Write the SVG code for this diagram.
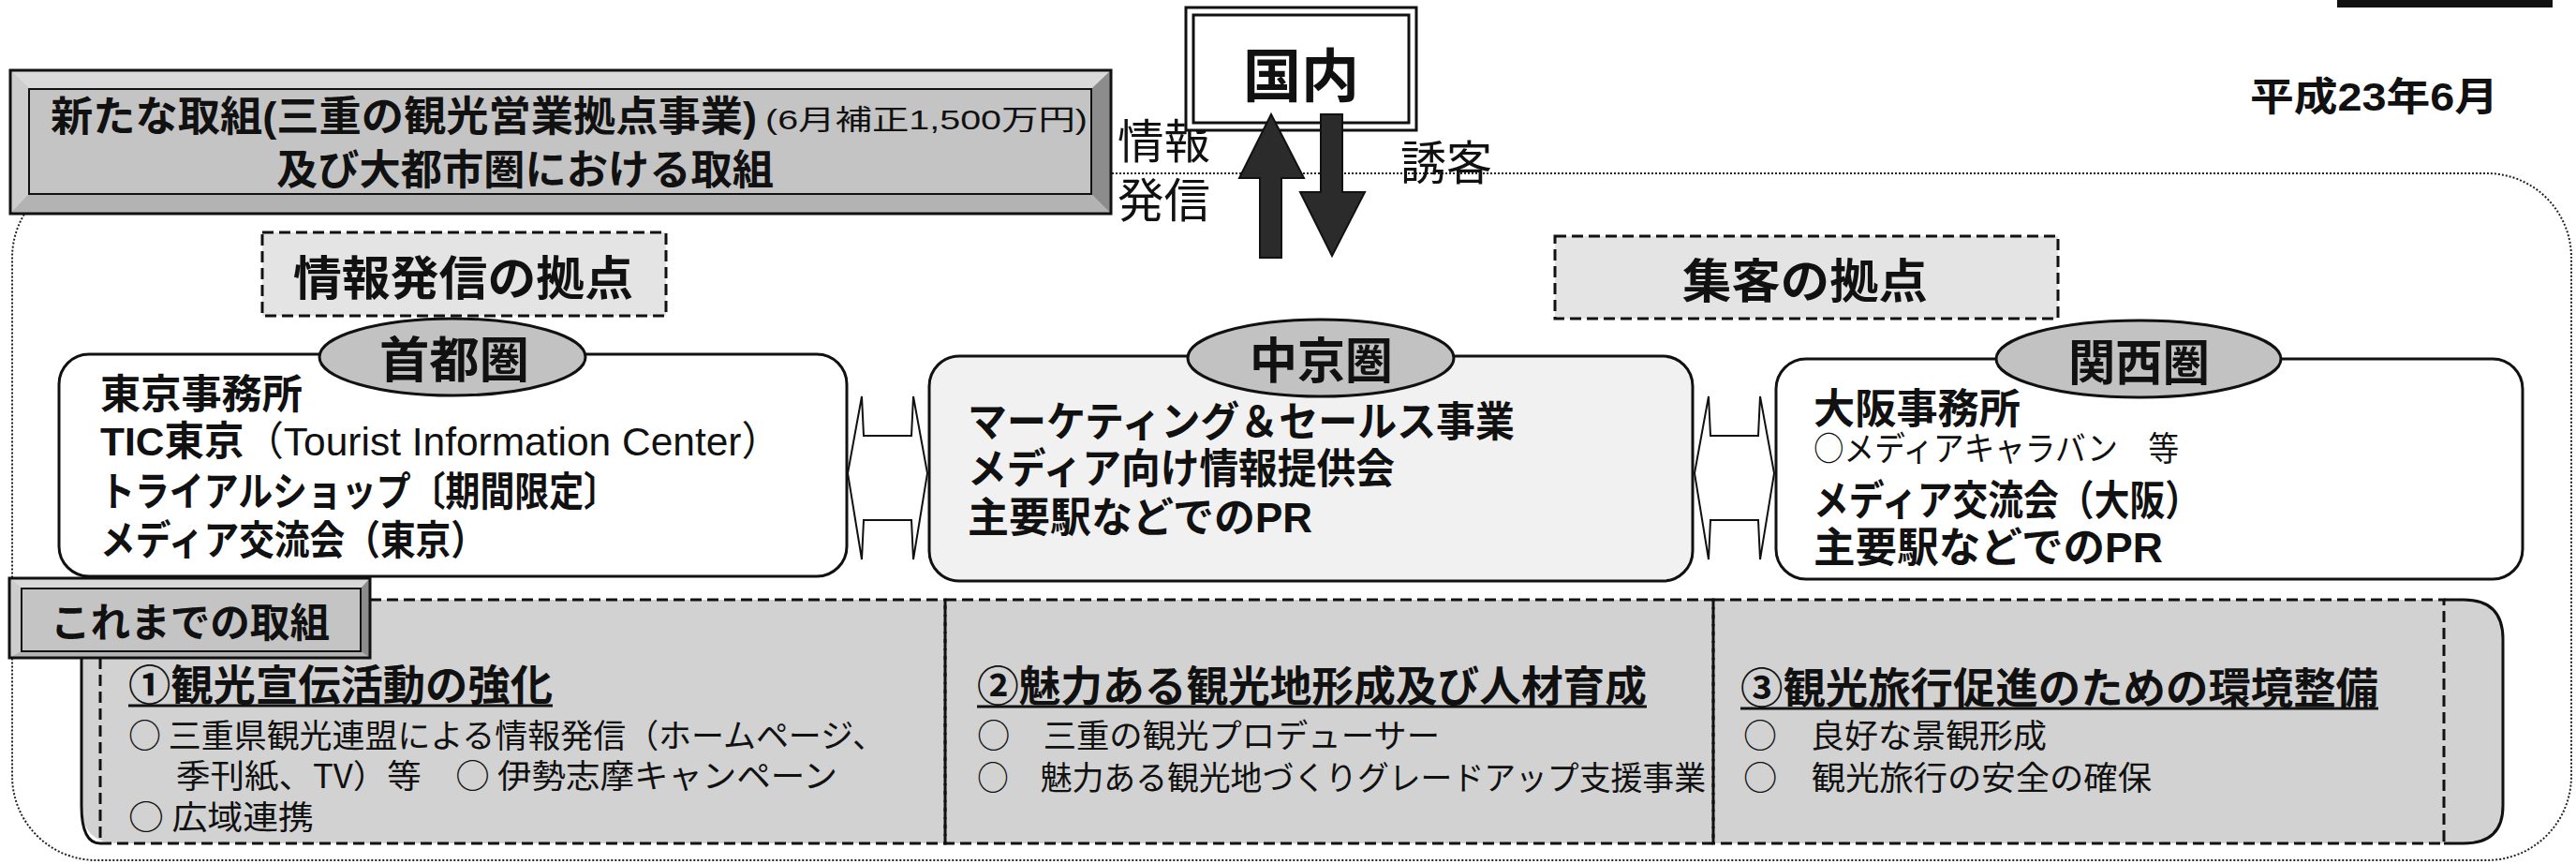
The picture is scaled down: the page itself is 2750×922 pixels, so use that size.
<svg xmlns="http://www.w3.org/2000/svg" width="2750" height="922" viewBox="0 0 2750 922">
<style>
text{font-family:"Liberation Sans","Noto Sans CJK JP",sans-serif;fill:#111}
.j{font-family:"Noto Sans CJK JP","Liberation Sans",sans-serif}
.b{font-weight:700}
.n{font-weight:400}
.box{stroke:#111;stroke-width:3}
.dash{fill:none;stroke:#111;stroke-width:3;stroke-dasharray:12 6}
.dot{fill:none;stroke:#222;stroke-width:2;stroke-dasharray:2 2}
.ell{fill:#c2c2c2;stroke:#111;stroke-width:3}
.conn{fill:#fff;stroke:#111;stroke-width:2;stroke-linejoin:miter}
.arr{fill:#2b2b2b;stroke:#111;stroke-width:2}
.bv-face{fill:#c4c4c4;stroke:#111;stroke-width:2}
.bv-top{fill:#d9d9d9}
.bv-left{fill:#cdcdcd}
.bv-right{fill:#8c8c8c}
.bv-bot{fill:#b3b3b3}
.ul{stroke:#111;stroke-width:3}
</style>

<rect x="0" y="0" width="2750" height="922" fill="#fff"/>

<!-- outer dotted frame -->
<g id="frame">
<rect class="dot" x="13" y="185" width="2732" height="733" rx="90" ry="90"/>
</g>

<!-- top right black bar -->
<rect id="corner-bar" x="2495" y="0" width="230" height="8" fill="#111"/>

<!-- date -->
<g id="date">
<text class="b" x="2402" y="118" font-size="42" textLength="265" lengthAdjust="spacingAndGlyphs">平成23年6月</text>
</g>

<!-- header bevel box -->
<g id="header">
<rect x="11" y="75" width="1175" height="153" fill="#b8b8b8"/>
<polygon class="bv-top" points="11,75 1186,75 1165,95 31,95"/>
<polygon class="bv-left" points="11,75 31,95 31,207 11,228"/>
<polygon class="bv-right" points="1186,75 1165,95 1165,207 1186,228"/>
<polygon class="bv-bot" points="11,228 1186,228 1165,207 31,207"/>
<rect x="11" y="75" width="1175" height="153" fill="none" stroke="#111" stroke-width="3"/>
<rect class="bv-face" x="31" y="95" width="1134" height="112"/>
<text class="b" x="54" y="140" font-size="44" textLength="754" lengthAdjust="spacingAndGlyphs">新たな取組(三重の観光営業拠点事業)</text>
<text class="n" x="817" y="138" font-size="30" textLength="344" lengthAdjust="spacingAndGlyphs">(6月補正1,500万円)</text>
<text class="b" x="295" y="197" font-size="44" textLength="531" lengthAdjust="spacingAndGlyphs">及び大都市圏における取組</text>
</g>

<!-- side labels -->
<g id="label-info">
<text class="n" x="1193" y="169" font-size="50" textLength="99" lengthAdjust="spacingAndGlyphs">情報</text>
<text class="n" x="1193" y="232" font-size="50" textLength="99" lengthAdjust="spacingAndGlyphs">発信</text>
</g>
<g id="label-yuukyaku">
<text class="n" x="1495" y="192" font-size="50" textLength="98" lengthAdjust="spacingAndGlyphs">誘客</text>
</g>

<!-- dashed hub labels -->
<g id="hub-info">
<rect x="280" y="248" width="431" height="89" fill="#e4e4e4"/>
<rect class="dash" x="280" y="248" width="431" height="89"/>
<text class="b" x="313" y="315" font-size="50" textLength="363" lengthAdjust="spacingAndGlyphs">情報発信の拠点</text>
</g>
<g id="hub-customer">
<rect x="1660" y="252" width="537" height="88" fill="#e4e4e4"/>
<rect class="dash" x="1660" y="252" width="537" height="88"/>
<text class="b" x="1796" y="318" font-size="50" textLength="262" lengthAdjust="spacingAndGlyphs">集客の拠点</text>
</g>

<!-- 首都圏 -->
<g id="node-shutoken">
<rect class="box" x="63" y="378" width="841" height="237" rx="32" ry="32" fill="#fff"/>
<ellipse class="ell" cx="483" cy="381" rx="142" ry="41"/>
<text class="b" x="405" y="403" font-size="52" textLength="160" lengthAdjust="spacingAndGlyphs">首都圏</text>
<text class="b" x="107" y="436" font-size="43" textLength="216" lengthAdjust="spacingAndGlyphs">東京事務所</text>
<text x="107" y="486" font-size="43" textLength="727" lengthAdjust="spacingAndGlyphs"><tspan class="b">TIC東京</tspan><tspan class="n">（Tourist Information Center）</tspan></text>
<text class="b" x="107" y="540" font-size="43" textLength="553" lengthAdjust="spacingAndGlyphs">トライアルショップ〔期間限定〕</text>
<text class="b" x="107" y="592" font-size="43" textLength="412" lengthAdjust="spacingAndGlyphs">メディア交流会（東京）</text>
</g>

<!-- 中京圏 -->
<g id="node-chukyoken">
<rect class="box" x="992" y="380" width="815" height="240" rx="32" ry="32" fill="#f1f1f1"/>
<ellipse class="ell" cx="1410" cy="382" rx="142" ry="41"/>
<text class="b" x="1334" y="404" font-size="52" textLength="153" lengthAdjust="spacingAndGlyphs">中京圏</text>
<text class="b" x="1033" y="466" font-size="44" textLength="584" lengthAdjust="spacingAndGlyphs">マーケティング＆セールス事業</text>
<text class="b" x="1033" y="516" font-size="44" textLength="456" lengthAdjust="spacingAndGlyphs">メディア向け情報提供会</text>
<text class="b" x="1033" y="568" font-size="44" textLength="368" lengthAdjust="spacingAndGlyphs">主要駅などでのPR</text>
</g>

<!-- 関西圏 -->
<g id="node-kansaiken">
<rect class="box" x="1896" y="383" width="797" height="235" rx="32" ry="32" fill="#fff"/>
<ellipse class="ell" cx="2283" cy="383" rx="152" ry="41"/>
<text class="b" x="2208" y="406" font-size="52" textLength="151" lengthAdjust="spacingAndGlyphs">関西圏</text>
<text class="b" x="1936" y="452" font-size="44" textLength="221" lengthAdjust="spacingAndGlyphs">大阪事務所</text>
<text class="n j" x="1936" y="492" font-size="36" textLength="390" lengthAdjust="spacingAndGlyphs">○メディアキャラバン　等</text>
<text class="b" x="1936" y="550" font-size="44" textLength="413" lengthAdjust="spacingAndGlyphs">メディア交流会（大阪）</text>
<text class="b" x="1936" y="600" font-size="44" textLength="373" lengthAdjust="spacingAndGlyphs">主要駅などでのPR</text>
</g>

<!-- connectors -->
<g id="connectors">
<polygon class="conn" points="905,505 920,423 922,465 973,465 975,423 990,505 975,597 973,555 922,555 920,597"/>
<polygon class="conn" points="1809,505 1824,423 1826,465 1877,465 1879,423 1894,505 1879,597 1877,555 1826,555 1824,597"/>
</g>

<!-- 国内 -->
<g id="node-kokunai">
<rect x="1266" y="8" width="246" height="131" fill="#fff" stroke="#111" stroke-width="3"/>
<rect x="1274" y="16" width="230" height="115" fill="none" stroke="#111" stroke-width="3"/>
<text class="b" x="1327" y="104" font-size="62" textLength="124" lengthAdjust="spacingAndGlyphs">国内</text>
</g>
<g id="connectors-vertical">
<polygon class="arr" points="1357,122 1392,190 1368,190 1368,275 1345,275 1345,190 1323,190"/>
<polygon class="arr" points="1410,122 1433,122 1433,205 1457,205 1422,273 1388,205 1410,205"/>
</g>

<!-- bottom panel -->
<g id="past-panel">
<path d="M87,640 H2630 Q2672,640 2672,682 V860 Q2672,900 2630,900 H127 Q87,900 87,860 Z" fill="#d2d2d2"/>
<path d="M2609,640 H2630 Q2672,640 2672,682 V860 Q2672,900 2630,900 H2609" fill="none" stroke="#111" stroke-width="3"/>
<path d="M107,900 Q87,900 87,860 V640" fill="none" stroke="#111" stroke-width="3"/>
<rect class="dash" x="107" y="640" width="902" height="260"/>
<rect class="dash" x="1009" y="640" width="820" height="260"/>
<rect class="dash" x="1829" y="640" width="780" height="260"/>
</g>

<g id="section-1">
<text class="b" x="137" y="748" font-size="45" textLength="453" lengthAdjust="spacingAndGlyphs">①観光宣伝活動の強化</text>
<line class="ul" x1="137" y1="753" x2="590" y2="753"/>
<text class="n j" x="137" y="798" font-size="35" textLength="808" lengthAdjust="spacingAndGlyphs">○ 三重県観光連盟による情報発信（ホームページ、</text>
<text class="n j" x="188" y="841" font-size="35" textLength="706" lengthAdjust="spacingAndGlyphs">季刊紙、TV）等　○ 伊勢志摩キャンペーン</text>
<text class="n j" x="137" y="885" font-size="35" textLength="198" lengthAdjust="spacingAndGlyphs">○ 広域連携</text>
</g>

<g id="section-2">
<text class="b" x="1043" y="749" font-size="45" textLength="715" lengthAdjust="spacingAndGlyphs">②魅力ある観光地形成及び人材育成</text>
<line class="ul" x1="1043" y1="754" x2="1758" y2="754"/>
<text class="n j" x="1043" y="798" font-size="35" textLength="494" lengthAdjust="spacingAndGlyphs">○　三重の観光プロデューサー</text>
<text class="n j" x="1043" y="843" font-size="35" textLength="778" lengthAdjust="spacingAndGlyphs">○　魅力ある観光地づくりグレードアップ支援事業</text>
</g>

<g id="section-3">
<text class="b" x="1858" y="751" font-size="45" textLength="681" lengthAdjust="spacingAndGlyphs">③観光旅行促進のための環境整備</text>
<line class="ul" x1="1858" y1="756" x2="2539" y2="756"/>
<text class="n j" x="1861" y="798" font-size="35" textLength="324" lengthAdjust="spacingAndGlyphs">○　良好な景観形成</text>
<text class="n j" x="1861" y="843" font-size="35" textLength="436" lengthAdjust="spacingAndGlyphs">○　観光旅行の安全の確保</text>
</g>

<!-- これまでの取組 bevel label -->
<g id="past-label">
<rect x="10" y="617" width="385" height="85" fill="#b8b8b8"/>
<polygon class="bv-top" points="10,617 395,617 385,628 23,628"/>
<polygon class="bv-left" points="10,617 23,628 23,695 10,702"/>
<polygon class="bv-right" points="395,617 385,628 385,695 395,702"/>
<polygon class="bv-bot" points="10,702 395,702 385,695 23,695"/>
<rect x="10" y="617" width="385" height="85" fill="none" stroke="#111" stroke-width="3"/>
<rect class="bv-face" x="23" y="628" width="362" height="67"/>
<text class="b" x="54" y="680" font-size="43" textLength="298" lengthAdjust="spacingAndGlyphs">これまでの取組</text>
</g>
</svg>
